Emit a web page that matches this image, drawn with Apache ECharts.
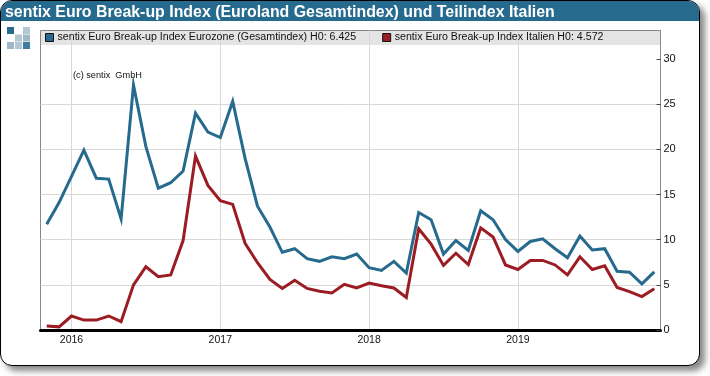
<!DOCTYPE html>
<html>
<head>
<meta charset="utf-8">
<title>sentix Euro Break-up Index</title>
<script src="https://cdn.jsdelivr.net/npm/echarts@6/dist/echarts.min.js"></script>
<style>
  html, body { margin: 0; padding: 0; background: #fff; }
  #frame {
    position: absolute; left: 0; top: 0; width: 698px; height: 364px;
    background: #fff; border: 1px solid #000; border-radius: 12px;
    box-shadow: 5px 5px 6px #888; overflow: hidden;
  }
  #bar { height: 20px; background: #266a8e; }
  #main { position: absolute; left: 0; top: 0; width: 710px; height: 376px; }
</style>
</head>
<body>
<div id="frame"><div id="bar"></div></div>
<div id="main"></div>
<script>
// Monate Nov 2015 - Dez 2019
var months = [
  "2015-11", "2015-12",
  "2016-01", "2016-02", "2016-03", "2016-04", "2016-05", "2016-06", "2016-07", "2016-08", "2016-09", "2016-10", "2016-11", "2016-12",
  "2017-01", "2017-02", "2017-03", "2017-04", "2017-05", "2017-06", "2017-07", "2017-08", "2017-09", "2017-10", "2017-11", "2017-12",
  "2018-01", "2018-02", "2018-03", "2018-04", "2018-05", "2018-06", "2018-07", "2018-08", "2018-09", "2018-10", "2018-11", "2018-12",
  "2019-01", "2019-02", "2019-03", "2019-04", "2019-05", "2019-06", "2019-07", "2019-08", "2019-09", "2019-10", "2019-11", "2019-12"
];
var eurozone = [
  11.7, 14.1,
  17.0, 19.9, 16.8, 16.7, 12.3, 27.1, 20.3, 15.7, 16.3, 17.6, 24.0, 21.9,
  21.3, 25.3, 19.0, 13.7, 11.4, 8.6, 9.0, 7.9, 7.6, 8.1, 7.9, 8.4,
  6.9, 6.6, 7.6, 6.3, 13.0, 12.2, 8.4, 9.9, 8.8, 13.2, 12.2, 10.0,
  8.7, 9.8, 10.1, 9.0, 8.0, 10.4, 8.85, 9.0, 6.5, 6.4, 5.1, 6.425
];
var italien = [
  0.45, 0.35,
  1.55, 1.1, 1.1, 1.55, 0.92, 5.0, 7.0, 5.9, 6.1, 9.9, 19.25, 16.0,
  14.3, 13.9, 9.6, 7.45, 5.6, 4.6, 5.5, 4.6, 4.3, 4.1, 5.05, 4.65,
  5.2, 4.9, 4.65, 3.6, 11.2, 9.5, 7.15, 8.5, 7.25, 11.3, 10.3, 7.2,
  6.7, 7.7, 7.7, 7.2, 6.1, 8.1, 6.7, 7.1, 4.7, 4.25, 3.7, 4.572
];
var yTicks = [0, 5, 10, 15, 20, 25, 30];
var nameEurozone = "sentix Euro Break-up Index Eurozone (Gesamtindex) H0: 6.425";
var nameItalien = "sentix Euro Break-up Index Italien H0: 4.572";

var blau = "#266a8e";
var rot = "#9c1c24";
var font = "'Liberation Sans', Arial, sans-serif";

function isJanuar(index) {
  return months[index].slice(5) === "01";
}

// Logo aus kleinen Quadraten oben links
function logoRect(x, y, fill) {
  return { type: "rect", z: 5, shape: { x: x, y: y, width: 7, height: 7 }, style: { fill: fill } };
}

var myChart = echarts.init(document.getElementById("main"), null, { renderer: "canvas" });
myChart.setOption({
  animation: false,
  backgroundColor: "transparent",
  title: {
    text: "sentix Euro Break-up Index (Euroland Gesamtindex) und Teilindex Italien",
    left: 0,
    top: 0,
    textStyle: { color: "#fff", fontFamily: font, fontSize: 15.9, fontWeight: "bold" }
  },
  grid: { left: 40.5, top: 30.5, width: 620, height: 299.5, show: true, borderColor: "#888", borderWidth: 1, backgroundColor: "transparent" },
  legend: {
    left: 45,
    top: 32,
    padding: 0,
    itemWidth: 8,
    itemHeight: 8,
    itemGap: 26,
    icon: "rect",
    selectedMode: false,
    textStyle: { color: "#111", fontFamily: font, fontSize: 10.65, padding: [0, 0, 0, -1] },
    data: [
      { name: nameEurozone, itemStyle: { color: blau, borderColor: "#111", borderWidth: 1 } },
      { name: nameItalien, itemStyle: { color: rot, borderColor: "#111", borderWidth: 1 } }
    ]
  },
  xAxis: {
    type: "category",
    data: months,
    boundaryGap: true,
    axisLine: { lineStyle: { color: "#000", width: 3 } },
    axisTick: { alignWithLabel: true, interval: function (i) { return isJanuar(i); }, length: 4, lineStyle: { color: "#000" } },
    axisLabel: {
      interval: function (i) { return isJanuar(i); },
      formatter: function (v) { return v.slice(0, 4); },
      color: "#111", fontFamily: font, fontSize: 10.5, margin: 5
    },
    splitLine: { show: true, alignWithLabel: true, interval: function (i) { return isJanuar(i); }, lineStyle: { color: "#d8d8d8", width: 1 } }
  },
  yAxis: {
    type: "value",
    position: "right",
    min: 0,
    max: 33.15,
    interval: 5,
    axisLine: { show: true, lineStyle: { color: "#888" } },
    axisTick: { show: true, inside: true, length: 4, customValues: yTicks, lineStyle: { color: "#444" } },
    axisLabel: { customValues: yTicks, color: "#111", fontFamily: font, fontSize: 11, margin: 3 },
    splitLine: { show: true, showMaxLine: false, lineStyle: { color: "#d8d8d8", width: 1 } }
  },
  graphic: [
    { type: "rect", z: -1, silent: true, shape: { x: 41, y: 31, width: 619, height: 14 }, style: { fill: "#e4e4e4" } },
    { type: "text", z: 5, left: 73, top: 71, style: { text: "(c) sentix  GmbH", fill: "#111", font: "9.2px " + font } },
    logoRect(7, 27, blau),
    logoRect(23, 27, "#b4c8d4"),
    logoRect(15, 34.5, "#b4c8d4"),
    logoRect(23, 34.5, "#9fb8c8"),
    logoRect(7, 42, "#9fb8c8"),
    logoRect(15, 42, "#b4c8d4"),
    logoRect(23, 42, "#3f7d9e")
  ],
  series: [
    { name: nameEurozone, type: "line", data: eurozone, showSymbol: false, smooth: false, z: 3, color: blau, lineStyle: { color: blau, width: 3, join: "miter" } },
    { name: nameItalien, type: "line", data: italien, showSymbol: false, smooth: false, z: 4, color: rot, lineStyle: { color: rot, width: 3, join: "miter" } }
  ]
});
</script>
</body>
</html>
